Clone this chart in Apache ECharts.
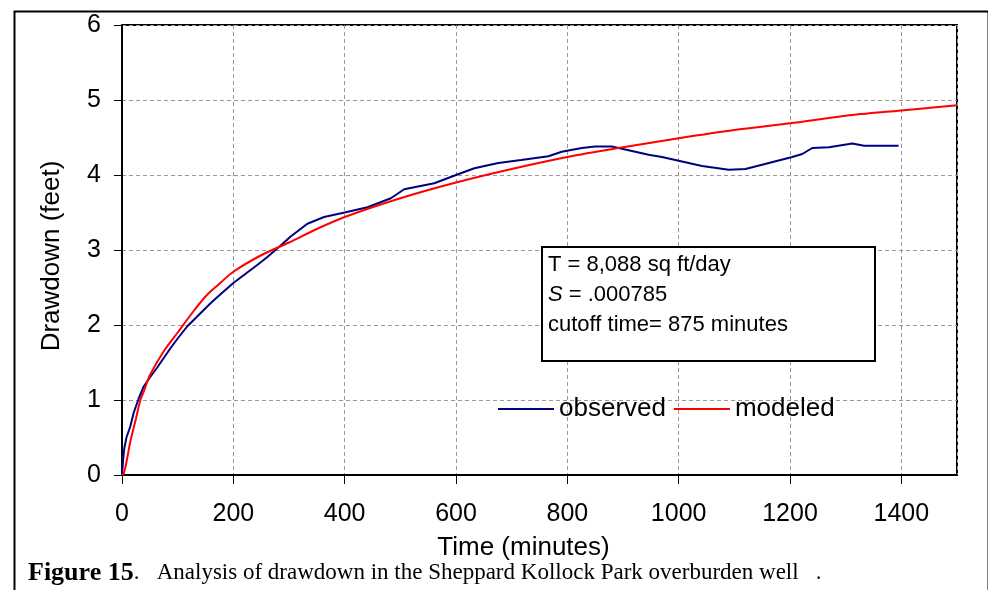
<!DOCTYPE html>
<html>
<head>
<meta charset="utf-8">
<script src="https://cdn.jsdelivr.net/npm/echarts@6/dist/echarts.min.js"></script>
<style>
  html, body { margin: 0; padding: 0; background: #fff; }
  #drawdown { width: 988px; height: 590px; }
</style>
</head>
<body>
<div id="drawdown"></div>
<script>
// observed drawdown (feet) against time (minutes)
var obsTime = [0, 2, 4, 8, 15, 21, 30, 39, 50, 63, 75, 87, 100, 117, 140, 159, 180, 200, 225, 243, 260, 279, 303, 333, 363, 400, 441, 483, 507, 561, 600, 633, 676, 717, 766, 790, 826, 850, 880, 910, 946, 970, 1006, 1042, 1090, 1120, 1162, 1204, 1222, 1240, 1270, 1312, 1333, 1395];
var obsDrawdown = [0, 0.2, 0.35, 0.5, 0.65, 0.83, 1.02, 1.18, 1.3, 1.43, 1.56, 1.69, 1.82, 1.98, 2.15, 2.29, 2.43, 2.56, 2.7, 2.8, 2.9, 3.02, 3.18, 3.35, 3.44, 3.5, 3.57, 3.69, 3.81, 3.89, 4.0, 4.09, 4.16, 4.2, 4.25, 4.31, 4.36, 4.38, 4.38, 4.33, 4.27, 4.24, 4.18, 4.12, 4.07, 4.08, 4.16, 4.24, 4.28, 4.36, 4.37, 4.42, 4.39, 4.39];

// modeled drawdown
var modTime = [0, 3, 6, 10, 15, 20, 25, 33, 40, 50, 75, 100, 125, 150, 175, 200, 250, 300, 350, 400, 500, 600, 700, 800, 900, 1000, 1100, 1200, 1300, 1400, 1500];
var modDrawdown = [0, 0.02, 0.1, 0.25, 0.45, 0.6, 0.75, 1.0, 1.13, 1.33, 1.65, 1.9, 2.15, 2.38, 2.55, 2.71, 2.93, 3.1, 3.28, 3.44, 3.69, 3.9, 4.08, 4.24, 4.37, 4.49, 4.6, 4.69, 4.79, 4.86, 4.93];

var boxLines = ['T = 8,088 sq ft/day', '{i|S} = .000785', 'cutoff time= 875 minutes'];

function pairs(xs, ys) {
  return xs.map(function (x, i) { return [x, ys[i]]; });
}

var chart = echarts.init(document.getElementById('drawdown'));

var axisFont = 'Liberation Sans, Arial, sans-serif';
var serif = 'Liberation Serif, Times New Roman, serif';

var option = {
  backgroundColor: '#fff',
  animation: false,
  grid: {
    left: 122, top: 25, right: 31, bottom: 115,
    show: true, borderColor: '#000', borderWidth: 2
  },
  legend: {
    left: 493, top: 391,
    icon: 'rect', itemWidth: 56, itemGap: 8, itemHeight: 2,
    textStyle: { fontFamily: axisFont, fontSize: 26, color: '#000' },
    data: ['observed', 'modeled']
  },
  xAxis: {
    type: 'value', min: 0, max: 1500, interval: 200,
    name: 'Time (minutes)', nameLocation: 'middle', nameGap: 60,
    nameTextStyle: { fontFamily: axisFont, fontSize: 26, color: '#000', padding: [0, 32, 0, 0] },
    axisLine: { lineStyle: { color: '#000', width: 2 } },
    axisTick: { show: true, length: 9, lineStyle: { color: '#000' } },
    axisLabel: {
      showMaxLabel: false, margin: 27,
      fontFamily: axisFont, fontSize: 25, color: '#000',
      formatter: function (v) { return String(v); }
    },
    splitLine: { show: true, lineStyle: { color: '#999', type: [4, 3], width: 1 } }
  },
  yAxis: {
    type: 'value', min: 0, max: 6, interval: 1,
    name: 'Drawdown (feet)', nameLocation: 'middle', nameGap: 57,
    nameTextStyle: { fontFamily: axisFont, fontSize: 26, color: '#000', padding: [0, 12, 0, 0] },
    axisLine: { show: true, lineStyle: { color: '#000', width: 2 } },
    axisTick: { show: true, length: 8, lineStyle: { color: '#000' } },
    axisLabel: { margin: 21, fontFamily: axisFont, fontSize: 25, color: '#000' },
    splitLine: { show: true, lineStyle: { color: '#999', type: [4, 3], width: 1 } }
  },
  series: [
    {
      name: 'observed', type: 'line', showSymbol: false, symbol: 'none',
      lineStyle: { color: '#000080', width: 2 }, itemStyle: { color: '#000080' },
      data: pairs(obsTime, obsDrawdown)
    },
    {
      name: 'modeled', type: 'line', showSymbol: false, symbol: 'none', smooth: 0.3,
      lineStyle: { color: '#ff0000', width: 2 }, itemStyle: { color: '#ff0000' },
      data: pairs(modTime, modDrawdown)
    }
  ],
  graphic: [
    // outer frame of the figure
    {
      type: 'rect', left: 12, top: 9, z: 100,
      shape: { width: 974, height: 600 },
      style: { fill: 'none', stroke: '#000', lineWidth: 2 }
    },
    // parameter box
    {
      type: 'rect', left: 541, top: 246, z: 100,
      shape: { width: 333, height: 114 },
      style: { fill: '#fff', stroke: '#000', lineWidth: 2 }
    },
    {
      type: 'text', left: 548, top: 250, z: 101,
      style: {
        text: boxLines.join('\n'),
        font: '22px Liberation Sans, Arial, sans-serif',
        lineHeight: 30, fill: '#000',
        rich: { i: { fontStyle: 'italic', fontSize: 22, fontFamily: axisFont, lineHeight: 30 } }
      }
    },
    // figure caption
    {
      type: 'text', left: 28, top: 560, z: 101,
      style: {
        text: '{b|Figure 15}.   Analysis of drawdown in the Sheppard Kollock Park overburden well   .',
        font: '23px ' + serif,
        fill: '#000',
        rich: { b: { fontWeight: 'bold', fontSize: 26, fontFamily: serif } }
      }
    }
  ]
};

chart.setOption(option);
</script>
</body>
</html>
